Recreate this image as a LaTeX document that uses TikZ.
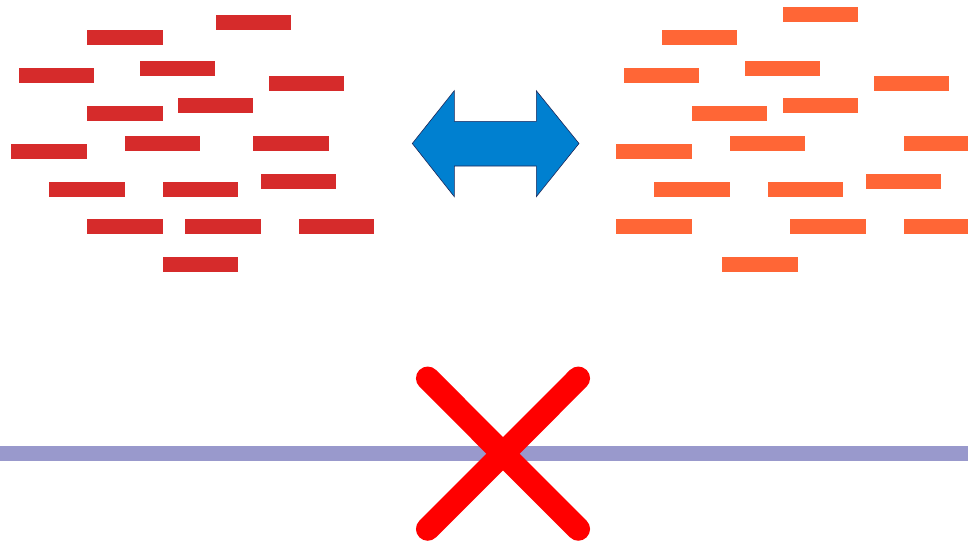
\documentclass[tikz,border=0pt]{standalone}
\usetikzlibrary{positioning}
\definecolor{brickred}{RGB}{214,43,43}
\definecolor{brickorange}{RGB}{255,102,54}
\definecolor{arrowblue}{RGB}{0,128,208}
\definecolor{arrowedge}{RGB}{30,40,90}
\definecolor{linelilac}{RGB}{153,153,204}
\definecolor{crossred}{RGB}{255,0,0}
\tikzset{
  bar/.style={anchor=north west, inner sep=0pt, outer sep=0pt,
    minimum width=75.4pt, minimum height=15pt},
  redbar/.style={bar, fill=brickred},
  orangebar/.style={bar, fill=brickorange},
  swaparrow/.style={fill=arrowblue, draw=arrowedge, line width=0.6pt, line join=miter},
  baseline/.style={draw=linelilac, line width=14.7pt},
  crossline/.style={draw=crossred, line width=23.5pt, line cap=round},
}
\begin{document}
\begin{tikzpicture}[x=1pt,y=-1pt]
  \useasboundingbox (0,0) rectangle (968,543);

  % left cluster of red bricks
  \node[redbar] (r1)  at (215.7,15.3)  {};
  \node[redbar] (r2)  at (87.3,30.3)   {};
  \node[redbar] (r3)  at (140.0,60.7)  {};
  \node[redbar] (r4)  at (19.0,68.3)   {};
  \node[redbar] (r5)  at (268.7,75.7)  {};
  \node[redbar] (r6)  at (87.3,106.0)  {};
  \node[redbar] (r7)  at (178.0,98.3)  {};
  \node[redbar] (r8)  at (11.3,143.7)  {};
  \node[redbar] (r9)  at (125.0,136.0) {};
  \node[redbar] (r10) at (253.3,136.0) {};
  \node[redbar] (r11) at (49.3,181.7)  {};
  \node[redbar] (r12) at (162.7,181.7) {};
  \node[redbar] (r13) at (261.0,174.0) {};
  \node[redbar] (r14) at (87.3,219.3)  {};
  \node[redbar] (r15) at (185.3,219.3) {};
  \node[redbar] (r16) at (299.0,219.3) {};
  \node[redbar] (r17) at (162.7,257.3) {};

  % right cluster of orange bricks
  \node[orangebar] (o1)  at (782.7,7.3)   {};
  \node[orangebar] (o2)  at (662.0,30.3)  {};
  \node[orangebar] (o3)  at (745.0,60.7)  {};
  \node[orangebar] (o4)  at (624.0,68.3)  {};
  \node[orangebar] (o5)  at (873.7,75.7)  {};
  \node[orangebar] (o6)  at (692.0,106.0) {};
  \node[orangebar] (o7)  at (782.7,98.3)  {};
  \node[orangebar] (o8)  at (616.3,143.7) {};
  \node[orangebar] (o9)  at (730.0,136.0) {};
  \node[orangebar] (o10) at (903.7,136.0) {};
  \node[orangebar] (o11) at (654.3,181.7) {};
  \node[orangebar] (o12) at (767.7,181.7) {};
  \node[orangebar] (o13) at (866.0,174.0) {};
  \node[orangebar] (o14) at (616.3,219.3) {};
  \node[orangebar] (o15) at (790.3,219.3) {};
  \node[orangebar] (o16) at (903.7,219.3) {};
  \node[orangebar] (o17) at (722.3,257.3) {};

  % double-headed exchange arrow
  \path[swaparrow] (412.3,143.5) -- (454.3,90.7) -- (454.3,121.3)
    -- (536.3,121.3) -- (536.3,90.7) -- (579.0,143.5)
    -- (536.3,196.7) -- (536.3,166.0) -- (454.3,166.0)
    -- (454.3,196.7) -- cycle;

  % horizontal line
  \coordinate (lineL) at (0,453.3);
  \coordinate (lineR) at (968,453.3);
  \draw[baseline] (lineL) -- (lineR);

  % cross
  \coordinate (xtl) at (427.7,378.3);
  \coordinate (xtr) at (578.3,378.3);
  \coordinate (xbl) at (427.7,529.0);
  \coordinate (xbr) at (578.3,529.0);
  \draw[crossline] (xtl) -- (xbr);
  \draw[crossline] (xtr) -- (xbl);
\end{tikzpicture}
\end{document}
